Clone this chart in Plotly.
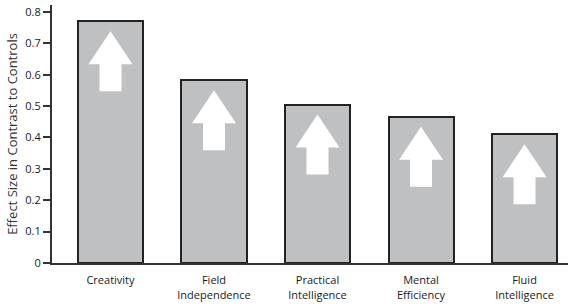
import plotly.graph_objects as go

categories = ["Creativity", "Field<br>Independence", "Practical<br>Intelligence",
              "Mental<br>Efficiency", "Fluid<br>Intelligence"]
effect_sizes = [0.77, 0.582, 0.505, 0.466, 0.41]
y_ticks = [0, 0.1, 0.2, 0.3, 0.4, 0.5, 0.6, 0.7, 0.8]
y_tick_labels = ["0", "0.1", "0.2", "0.3", "0.4", "0.5", "0.6", "0.7", "0.8"]

idx = list(range(len(categories)))

fig = go.Figure()
fig.add_trace(go.Bar(
    x=idx, y=effect_sizes, width=0.628,
    marker=dict(color="#bfc0c2", line=dict(color="#222222", width=2)),
    hoverinfo="skip",
))

# white up-arrows inside each bar, anchored to bar top (pixel-sized)
arrow_path = "M 0 -10 L 22 -43 L 11 -43 L 11 -70 L -11 -70 L -11 -43 L -22 -43 Z"
shapes = []
for i, v in zip(idx, effect_sizes):
    shapes.append(dict(
        type="path", xref="x", yref="y",
        xsizemode="pixel", ysizemode="pixel",
        xanchor=i, yanchor=v, path=arrow_path,
        fillcolor="white", line=dict(width=0), layer="above",
    ))

fig.update_layout(
    width=568, height=305,
    margin=dict(l=52, r=0, t=5, b=42, autoexpand=False),
    paper_bgcolor="white", plot_bgcolor="white",
    showlegend=False,
    font=dict(family="Open Sans, Noto Sans, sans-serif", color="#1a1a1a", size=11),
    shapes=shapes,
    bargap=0,
    xaxis=dict(
        tickmode="array", tickvals=idx, ticktext=categories,
        range=[-0.565, 4.42], showgrid=False, zeroline=False,
        showline=True, linecolor="#333333", linewidth=2,
        ticks="", ticklabelstandoff=6, tickfont=dict(size=11),
        automargin=False,
    ),
    yaxis=dict(
        tickmode="array", tickvals=y_ticks, ticktext=y_tick_labels,
        range=[0, 0.822], showgrid=False, zeroline=False,
        showline=True, linecolor="#333333", linewidth=2,
        ticks="outside", ticklen=7, tickwidth=2, tickcolor="#333333",
        tickfont=dict(size=11), automargin=False,
        title=dict(text="Effect Size in Contrast to Controls",
                   font=dict(size=13, color="#333333"), standoff=5),
    ),
)

fig.write_html("out.html", config={"displayModeBar": False},
               post_script="document.body.style.margin='0';document.body.style.padding='0';")
